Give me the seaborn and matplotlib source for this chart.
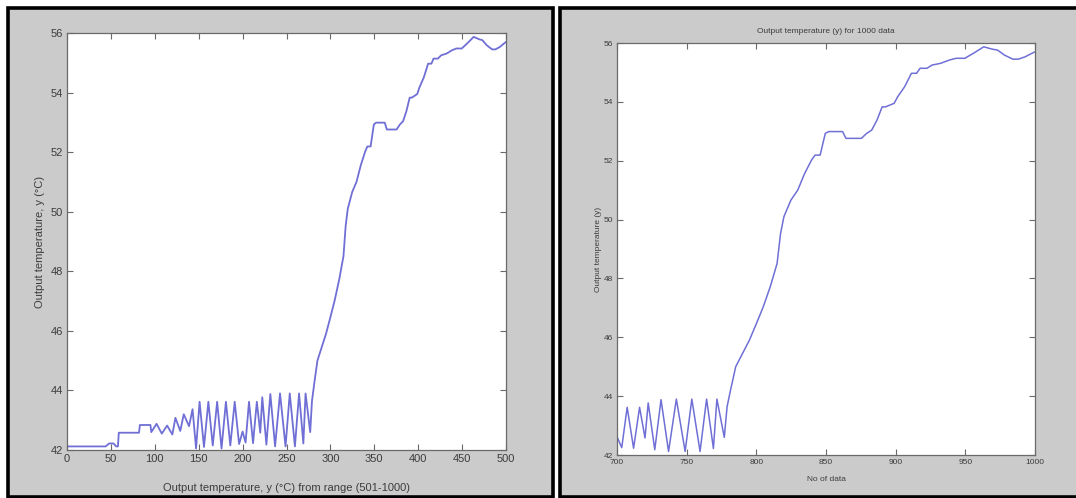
import numpy as np
import pandas as pd
import matplotlib
matplotlib.use("Agg")
import matplotlib.pyplot as plt
from matplotlib.patches import Rectangle
import seaborn as sns

# ---- data (sample index within the 501-1000 range, output temperature °C) ----
sample_idx = [0, 44, 48, 53, 56, 58, 59, 82, 83, 95,
              96, 102, 108, 114, 120, 123.5, 129, 133, 139, 143,
              147, 151, 156, 161, 166, 171, 176, 181, 186, 191,
              196, 200, 203.4, 207.3, 211.9, 216.2, 220.1, 222.4, 227.1, 231.6,
              237.0, 242.6, 248.9, 253.7, 259.6, 264.3, 269.2, 271.7, 277.0, 279.0,
              281.5, 285.2, 288.9, 295.1, 300.1, 305.0, 310.0, 314.9, 317.4, 319.8,
              324.8, 329.7, 334.7, 339.6, 342.1, 345.8, 349.5, 352.0, 361.9, 364.3,
              375.4, 379.2, 382.8, 386.6, 390.3, 392.7, 398.9, 401.4, 406.4, 411.3,
              415.0, 417.5, 422.4, 426.1, 432.3, 438.5, 443.4, 449.6, 455.8, 463.2,
              469.4, 473.1, 478.0, 484.2, 487.9, 492.9, 497.8, 500.0]
temp_c = [42.12, 42.12, 42.22, 42.22, 42.12, 42.12, 42.58, 42.58, 42.84, 42.84,
          42.60, 42.88, 42.55, 42.82, 42.52, 43.08, 42.64, 43.20, 42.80, 43.37,
          42.05, 43.62, 42.10, 43.62, 42.15, 43.62, 42.05, 43.62, 42.15, 43.62,
          42.20, 42.62, 42.25, 43.62, 42.23, 43.62, 42.58, 43.77, 42.18, 43.88,
          42.12, 43.90, 42.12, 43.90, 42.12, 43.90, 42.22, 43.90, 42.60, 43.64,
          44.21, 45.00, 45.34, 45.91, 46.47, 47.04, 47.72, 48.51, 49.53, 50.10,
          50.66, 51.00, 51.57, 52.02, 52.19, 52.19, 52.93, 52.99, 52.99, 52.76,
          52.76, 52.93, 53.04, 53.38, 53.83, 53.83, 53.95, 54.17, 54.51, 54.97,
          54.97, 55.14, 55.14, 55.25, 55.31, 55.42, 55.48, 55.48, 55.65, 55.87,
          55.79, 55.76, 55.59, 55.45, 55.45, 55.53, 55.65, 55.70]

range_offset = 500          # sample index -> data number (501-1000)
right_start = 200           # right panel shows data 700-1000

left_xticks = [0, 50, 100, 150, 200, 250, 300, 350, 400, 450, 500]
right_xticks = [700, 750, 800, 850, 900, 950, 1000]
yticks = [42, 44, 46, 48, 50, 52, 54, 56]

left_xlabel = "Output temperature, y (°C) from range (501-1000)"
left_ylabel = "Output temperature, y (°C)"
right_title = "Output temperature (y) for 1000 data"
right_xlabel = "No of data"
right_ylabel = "Output temperature (y)"

df = pd.DataFrame({"idx": sample_idx, "temp": temp_c})
df_right = df[df["idx"] >= right_start].copy()
df_right["n"] = df_right["idx"] + range_offset

# ---- style ----
sns.set_theme(style="white")
plt.rcParams["font.family"] = ["Liberation Sans", "DejaVu Sans"]

W, H = 1076, 498
fig = plt.figure(figsize=(W / 100, H / 100), dpi=100, facecolor="white")

def px_rect(x0, y0, x1, y1):
    # pixel coords (top-left origin) -> figure fraction
    return (x0 / W, 1 - y1 / H, (x1 - x0) / W, (y1 - y0) / H)

panel_gray = "#cbcbcb"
for (x0, y0, x1, y1) in [(8, 8.5, 553.3, 496.5), (559.7, 8.5, 1085, 496.5)]:
    l, b, w, h = px_rect(x0, y0, x1, y1)
    fig.patches.append(Rectangle((l, b), w, h, transform=fig.transFigure,
                                 facecolor=panel_gray, edgecolor="black",
                                 linewidth=2.6, zorder=-5))

line_color = "#6f6fd6"
text_color = "#3c3c3c"
spine_color = "#6a6a6a"

ax1 = fig.add_axes(px_rect(67, 33, 506, 450))
ax2 = fig.add_axes(px_rect(617, 43, 1035, 455))

sns.lineplot(data=df, x="idx", y="temp", ax=ax1, color=line_color,
             linewidth=1.3, estimator=None, sort=False)
sns.lineplot(data=df_right, x="n", y="temp", ax=ax2, color=line_color,
             linewidth=1.1, estimator=None, sort=False)

for ax, xt, fs in [(ax1, left_xticks, 8), (ax2, right_xticks, 6)]:
    ax.set_facecolor("white")
    ax.set_xlim(xt[0], xt[-1])
    ax.set_ylim(42, 56)
    ax.set_xticks(xt)
    ax.set_yticks(yticks)
    ax.set_xticklabels([str(v) for v in xt])
    ax.set_yticklabels([str(v) for v in yticks])
    ax.tick_params(direction="in", length=4, width=0.8, colors=spine_color,
                   labelcolor=text_color, labelsize=fs,
                   top=True, right=True, bottom=True, left=True, pad=3)
    for s in ax.spines.values():
        s.set_visible(True)
        s.set_color(spine_color)
        s.set_linewidth(0.9)

ax1.set_xlabel(left_xlabel, fontsize=8, color=text_color)
ax1.set_ylabel(left_ylabel, fontsize=8, color=text_color)
ax1.xaxis.set_label_coords(0.5, -0.079)
ax1.yaxis.set_label_coords(-0.049, 0.5)

ax2.set_xlabel(right_xlabel, fontsize=6, color=text_color)
ax2.set_ylabel(right_ylabel, fontsize=6, color=text_color)
ax2.set_title(right_title, fontsize=6, color=text_color, pad=7)
ax2.xaxis.set_label_coords(0.5, -0.052)
ax2.yaxis.set_label_coords(-0.037, 0.5)

fig.savefig("out.png", dpi=100, facecolor="white")
